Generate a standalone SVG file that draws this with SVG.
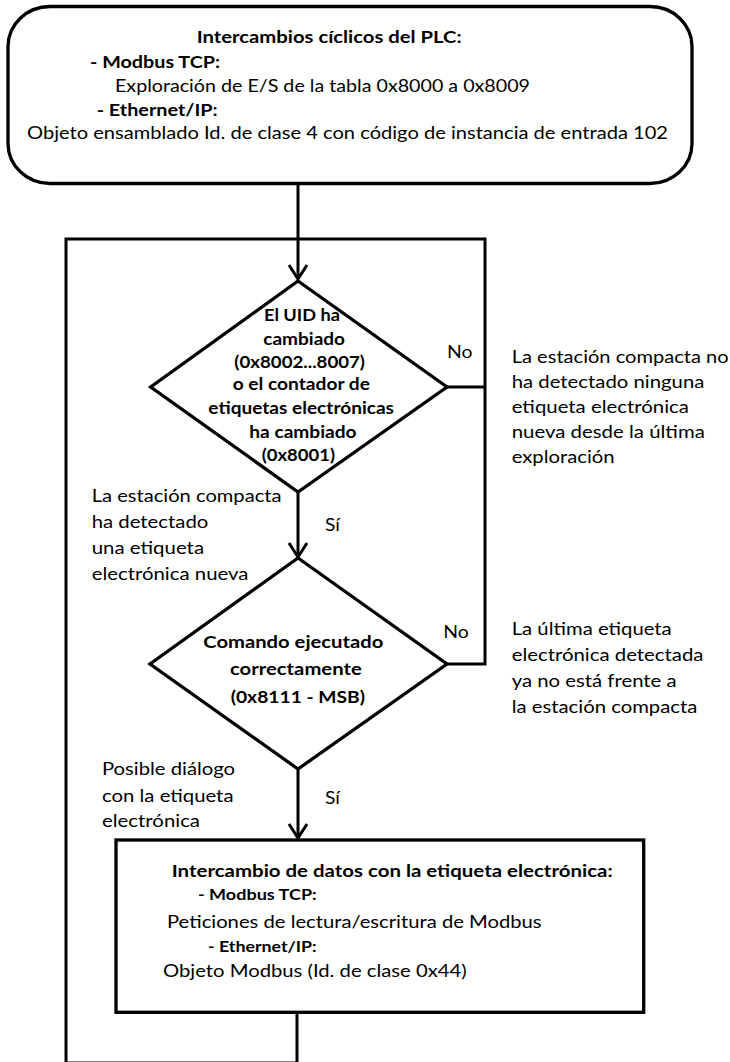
<svg xmlns="http://www.w3.org/2000/svg" width="730" height="1062" viewBox="0 0 730 1062">
<style>
text{font-family:Lato,"Open Sans","Liberation Sans",sans-serif;fill:#000;font-size:17px}
.b{font-weight:bold}
.d1{font-weight:bold;font-size:16.2px}
.sub{font-weight:bold;font-size:15.8px}
.shape{fill:#fff;stroke:#000;stroke-width:3.3}
.conn{fill:none;stroke:#000;stroke-width:3;stroke-linejoin:miter}
</style>
<defs>
<marker id="arr" viewBox="-16 -11 18 22" refX="0" refY="0" markerWidth="18" markerHeight="22" markerUnits="userSpaceOnUse" orient="auto" overflow="visible">
<path d="M-14,-9 L0,0 L-14,9" fill="none" stroke="#000" stroke-width="3"/>
</marker>
</defs>
<rect width="730" height="1062" fill="#fff"/>
<g id="connectors">
<path class="conn" d="M298,183 V279" marker-end="url(#arr)"/>
<path class="conn" d="M298,492 V557" marker-end="url(#arr)"/>
<path class="conn" d="M298,769 V838" marker-end="url(#arr)"/>
<path class="conn" d="M297,1012 V1063 H66 V239 H485 V664 H447"/>
<path class="conn" d="M447,387 H485"/>
</g>
<g id="start">
<rect class="shape" x="8" y="6.5" width="684" height="177" rx="42" ry="40"/>
<text class="b" x="196.7" y="43.3" textLength="265" lengthAdjust="spacingAndGlyphs">Intercambios cíclicos del PLC:</text>
<text class="b" x="90" y="68.3" textLength="130" lengthAdjust="spacingAndGlyphs">- Modbus TCP:</text>
<text x="115" y="92.3" textLength="415" lengthAdjust="spacingAndGlyphs">Exploración de E/S de la tabla 0x8000 a 0x8009</text>
<text class="b" x="96.7" y="115.7" textLength="121" lengthAdjust="spacingAndGlyphs">- Ethernet/IP:</text>
<text x="27" y="139" textLength="641" lengthAdjust="spacingAndGlyphs">Objeto ensamblado Id. de clase 4 con código de instancia de entrada 102</text>
</g>
<g id="decision1">
<polygon class="shape" points="298,281 447,387 298,492 150.7,387"/>
<text class="d1" x="264" y="320.7" textLength="76" lengthAdjust="spacingAndGlyphs">El UID ha</text>
<text class="d1" x="263.3" y="344.5" textLength="81.7" lengthAdjust="spacingAndGlyphs">cambiado</text>
<text class="d1" x="234.3" y="367.8" textLength="130.7" lengthAdjust="spacingAndGlyphs">(0x8002...8007)</text>
<text class="d1" x="232.7" y="390" textLength="137.3" lengthAdjust="spacingAndGlyphs">o el contador de</text>
<text class="d1" x="208.3" y="413.5" textLength="185.7" lengthAdjust="spacingAndGlyphs">etiquetas electrónicas</text>
<text class="d1" x="249.3" y="437.8" textLength="107.3" lengthAdjust="spacingAndGlyphs">ha cambiado</text>
<text class="d1" x="261.7" y="461" textLength="73.3" lengthAdjust="spacingAndGlyphs">(0x8001)</text>
</g>
<g id="label-no1">
<text x="447" y="358" textLength="25.5" lengthAdjust="spacingAndGlyphs">No</text>
</g>
<g id="note-no1">
<text x="511.7" y="363" textLength="217" lengthAdjust="spacingAndGlyphs">La estación compacta no</text>
<text x="511.7" y="388" textLength="192.7" lengthAdjust="spacingAndGlyphs">ha detectado ninguna</text>
<text x="511.7" y="413" textLength="177.2" lengthAdjust="spacingAndGlyphs">etiqueta electrónica</text>
<text x="511.7" y="438" textLength="193.1" lengthAdjust="spacingAndGlyphs">nueva desde la última</text>
<text x="511.7" y="463" textLength="102.9" lengthAdjust="spacingAndGlyphs">exploración</text>
</g>
<g id="note-si1">
<text x="91.7" y="502" textLength="189.8" lengthAdjust="spacingAndGlyphs">La estación compacta</text>
<text x="91.7" y="528" textLength="116.6" lengthAdjust="spacingAndGlyphs">ha detectado</text>
<text x="91.7" y="554" textLength="112.4" lengthAdjust="spacingAndGlyphs">una etiqueta</text>
<text x="91.7" y="580" textLength="156.7" lengthAdjust="spacingAndGlyphs">electrónica nueva</text>
</g>
<g id="label-si1">
<text x="325" y="531" textLength="14.9" lengthAdjust="spacingAndGlyphs">Sí</text>
</g>
<g id="decision2">
<polygon class="shape" points="298,558 447,664 298,769 150,664"/>
<text class="b" x="203.3" y="648" textLength="180" lengthAdjust="spacingAndGlyphs">Comando ejecutado</text>
<text class="b" x="230" y="675" textLength="131.7" lengthAdjust="spacingAndGlyphs">correctamente</text>
<text class="b" x="230.7" y="703" textLength="134.3" lengthAdjust="spacingAndGlyphs">(0x8111 - MSB)</text>
</g>
<g id="label-no2">
<text x="443.3" y="638.3" textLength="25.5" lengthAdjust="spacingAndGlyphs">No</text>
</g>
<g id="note-no2">
<text x="511.7" y="635" textLength="160" lengthAdjust="spacingAndGlyphs">La última etiqueta</text>
<text x="511.7" y="661" textLength="191.8" lengthAdjust="spacingAndGlyphs">electrónica detectada</text>
<text x="511.7" y="687" textLength="164.9" lengthAdjust="spacingAndGlyphs">ya no está frente a</text>
<text x="511.7" y="713" textLength="185.7" lengthAdjust="spacingAndGlyphs">la estación compacta</text>
</g>
<g id="note-si2">
<text x="102" y="775" textLength="133" lengthAdjust="spacingAndGlyphs">Posible diálogo</text>
<text x="102" y="801.7" textLength="131.5" lengthAdjust="spacingAndGlyphs">con la etiqueta</text>
<text x="102" y="826.7" textLength="98" lengthAdjust="spacingAndGlyphs">electrónica</text>
</g>
<g id="label-si2">
<text x="325" y="804" textLength="14.9" lengthAdjust="spacingAndGlyphs">Sí</text>
</g>
<g id="exchange">
<rect class="shape" x="116" y="840" width="527.7" height="172.3"/>
<text class="b" x="171.7" y="876.7" textLength="441" lengthAdjust="spacingAndGlyphs">Intercambio de datos con la etiqueta electrónica:</text>
<text class="sub" x="198" y="900" textLength="118.7" lengthAdjust="spacingAndGlyphs">- Modbus TCP:</text>
<text x="167" y="927.7" textLength="374.6" lengthAdjust="spacingAndGlyphs">Peticiones de lectura/escritura de Modbus</text>
<text class="sub" x="208" y="951.7" textLength="108.7" lengthAdjust="spacingAndGlyphs">- Ethernet/IP:</text>
<text x="163" y="976.7" textLength="303.6" lengthAdjust="spacingAndGlyphs">Objeto Modbus (Id. de clase 0x44)</text>
</g>
</svg>
